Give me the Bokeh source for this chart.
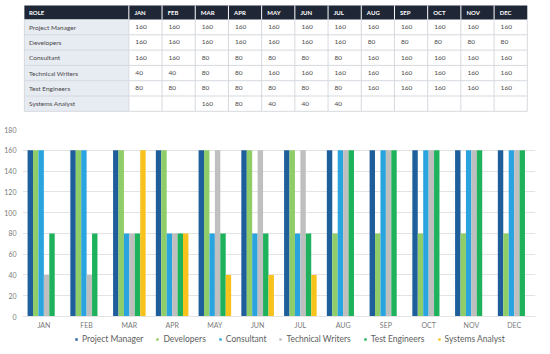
from bokeh.plotting import figure
from bokeh.models import (Range1d, FactorRange, Legend, LegendItem, ColumnDataSource,
                          SingleIntervalTicker)
from bokeh.transform import dodge
from bokeh.layouts import column
from bokeh.embed import file_html
from bokeh.resources import INLINE
from bokeh.core.properties import value

# ---------------- data ----------------
months = ["JAN", "FEB", "MAR", "APR", "MAY", "JUN", "JUL", "AUG", "SEP", "OCT", "NOV", "DEC"]
roles = ["Project Manager", "Developers", "Consultant", "Technical Writers",
         "Test Engineers", "Systems Analyst"]
project_manager = [160, 160, 160, 160, 160, 160, 160, 160, 160, 160, 160, 160]
developers = [160, 160, 160, 160, 160, 160, 160, 80, 80, 80, 80, 80]
consultant = [160, 160, 80, 80, 80, 80, 80, 160, 160, 160, 160, 160]
technical_writers = [40, 40, 80, 80, 160, 160, 160, 160, 160, 160, 160, 160]
test_engineers = [80, 80, 80, 80, 80, 80, 80, 160, 160, 160, 160, 160]
systems_analyst = [None, None, 160, 80, 40, 40, 40, None, None, None, None, None]
header_role = "ROLE"

series = [project_manager, developers, consultant, technical_writers,
          test_engineers, systems_analyst]
colors = ["#1d5e9b", "#8fcd68", "#2aa4de", "#bfbfbf", "#1fb25c", "#f6c21b"]

FONT = "Lato"

# ---------------- table ----------------
W, TH = 550, 113
X0, ROLE_R, COL_W = 2.0, 114.0, 35.6
HEAD_T, HEAD_B, ROW_H = 5.0, 19.0, 15.3
n_rows = len(roles)
x_end = ROLE_R + COL_W * len(months)
y_end = HEAD_B + ROW_H * n_rows

t = figure(width=W, height=TH, x_range=Range1d(0, W), y_range=Range1d(TH, 0),
           output_backend="svg", toolbar_location=None, min_border=0,
           x_axis_location=None, y_axis_location=None)
t.grid.visible = False
t.outline_line_color = None
t.background_fill_color = "white"

t.quad(left=[X0], right=[x_end], top=[HEAD_T], bottom=[HEAD_B],
       fill_color="#1f2636", line_color=None)
t.quad(left=[X0], right=[ROLE_R], top=[HEAD_B], bottom=[y_end],
       fill_color="#e7ebf2", line_color=None)

col_lefts = [ROLE_R + i * COL_W for i in range(len(months))]
t.segment(x0=col_lefts, y0=[HEAD_T] * len(col_lefts), x1=col_lefts,
          y1=[HEAD_B] * len(col_lefts), line_color="#ffffff", line_width=1)
vx = [X0] + col_lefts + [x_end]
t.segment(x0=vx, y0=[HEAD_B] * len(vx), x1=vx, y1=[y_end] * len(vx),
          line_color="#d6d9de", line_width=1)
hy = [HEAD_B + ROW_H * (k + 1) for k in range(n_rows)]
t.segment(x0=[X0] * len(hy), y0=hy, x1=[x_end] * len(hy), y1=hy,
          line_color="#d6d9de", line_width=1)

hx = [X0 + 5] + [c + 6 for c in col_lefts]
htxt = [header_role] + months
t.text(x=hx, y=[(HEAD_T + HEAD_B) / 2] * len(hx), text=htxt,
       text_font=value(FONT), text_font_size="6px", text_font_style="bold",
       text_color="white", text_baseline="middle", text_align="left")

ry = [HEAD_B + ROW_H * (k + 0.5) for k in range(n_rows)]
t.text(x=[X0 + 5] * n_rows, y=ry, text=roles, text_font=value(FONT),
       text_font_size="6.5px", text_color="#4a4a4a", text_baseline="middle",
       text_align="left")

vx_, vy_, vt_ = [], [], []
for r, s in enumerate(series):
    for i, v in enumerate(s):
        if v is None:
            continue
        vx_.append(col_lefts[i] + 7)
        vy_.append(ry[r])
        vt_.append(str(v))
t.text(x=vx_, y=vy_, text=vt_, text_font=value(FONT), text_font_size="6.5px",
       text_color="#4a4a4a", text_baseline="middle", text_align="left")

# ---------------- chart ----------------
data = {"month": months}
keys = ["pm", "dev", "cons", "tw", "te", "sa"]
for k, s in zip(keys, series):
    data[k] = [float("nan") if v is None else v for v in s]
src = ColumnDataSource(data)

CH = 218
p = figure(x_range=FactorRange(*months), y_range=Range1d(0, 180),
           width=W, height=CH, output_backend="svg", toolbar_location=None,
           min_border_left=22, min_border_right=15, min_border_top=16,
           min_border_bottom=14)
p.outline_line_color = None
p.xgrid.grid_line_color = None
p.ygrid.grid_line_color = "#e3e3e3"
p.ygrid.grid_line_width = 1

bw = 0.127
for j, (k, c) in enumerate(zip(keys, colors)):
    off = (j - 2.5) * bw
    p.vbar(x=dodge("month", off, range=p.x_range), top=k, width=bw,
           source=src, fill_color=c, line_color=None)

p.yaxis.ticker = SingleIntervalTicker(interval=20)
for ax in (p.xaxis, p.yaxis):
    ax.axis_line_color = None
    ax.major_tick_line_color = None
    ax.minor_tick_line_color = None
    ax.major_tick_out = 0
    ax.major_tick_in = 0
    ax.major_label_text_color = "#7a7a7a"
    ax.major_label_text_font = FONT
    ax.major_label_text_font_size = "7px"
p.yaxis.major_label_standoff = 2
p.xaxis.major_label_standoff = 4
p.xaxis.axis_line_color = "#e3e3e3"

# ---------------- legend strip ----------------
LH = 354 - TH - CH
lf = figure(width=W, height=LH, x_range=Range1d(0, 1), y_range=Range1d(0, 1),
            output_backend="svg", toolbar_location=None, min_border=0,
            x_axis_location=None, y_axis_location=None)
lf.grid.visible = False
lf.outline_line_color = None
items = []
for name, c in zip(roles, colors):
    # proxy glyph placed outside the visible range: only its legend swatch shows
    r = lf.scatter(x=[-5], y=[-5], marker="square", size=6, fill_color=c,
                   line_color=None)
    items.append(LegendItem(label=name, renderers=[r]))
leg = Legend(items=items, orientation="horizontal", location=(51, 10),
             label_text_font=FONT, label_text_font_size="8.5px",
             label_text_color="#606060", glyph_width=6, glyph_height=6,
             label_height=9, label_text_baseline="middle",
             spacing=11, label_standoff=3, padding=0, margin=0,
             border_line_color=None, background_fill_alpha=0)
lf.add_layout(leg, "center")

layout = column(t, p, lf, spacing=0)
open("out.html", "w").write(file_html(layout, INLINE))
